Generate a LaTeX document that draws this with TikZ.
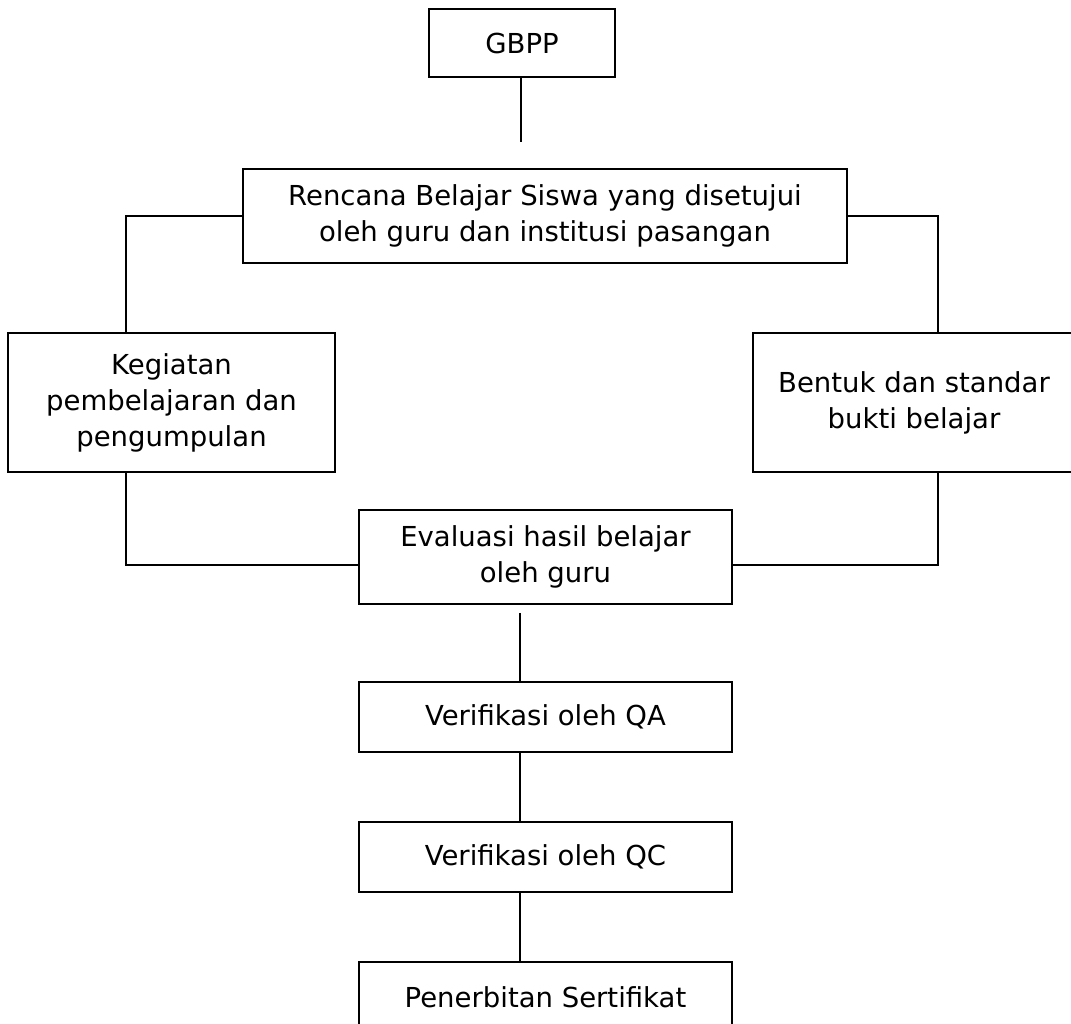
\documentclass[tikz,border=0pt]{standalone}
\usepackage{fontspec}
\setmainfont{DejaVu Sans}
\tikzset{
    kotak/.style={draw, line width=1.8pt, align=center, inner sep=0pt,
        font=\fontsize{27.5}{36}\selectfont},
    garis/.style={line width=1.8pt}
}
\begin{document}
\begin{tikzpicture}[x=1pt, y=-1pt]
    \useasboundingbox (0,0) rectangle (1071,1024);
    % kotak-kotak
    \node[kotak, minimum width=186, minimum height=68] (gbpp) at (522,43) {GBPP};
    \node[kotak, minimum width=604, minimum height=94] (rencana) at (545,216) {Rencana Belajar Siswa yang disetujui\\oleh guru dan institusi pasangan};
    \node[kotak, minimum width=327, minimum height=139] (kegiatan) at (171.5,402.5) {Kegiatan\\pembelajaran dan\\pengumpulan};
    \node[kotak, minimum width=322, minimum height=139] (bentuk) at (914,402.5) {Bentuk dan standar\\bukti belajar};
    \node[kotak, minimum width=373, minimum height=94] (evaluasi) at (545.5,557) {Evaluasi hasil belajar\\oleh guru};
    \node[kotak, minimum width=373, minimum height=70] (qa) at (545.5,717) {Verifikasi oleh QA};
    \node[kotak, minimum width=373, minimum height=70] (qc) at (545.5,857) {Verifikasi oleh QC};
    \node[kotak, minimum width=373, minimum height=70] (terbit) at (545.5,997) {Penerbitan Sertifikat};
    % garis penghubung
    \coordinate (ujung) at (521,142);
    \draw[garis] (gbpp.south -| ujung) -- (ujung);
    \draw[garis] (rencana.west) -| ([xshift=119]kegiatan.north west);
    \draw[garis] (rencana.east) -| ([xshift=186]bentuk.north west);
    \draw[garis] ([xshift=119]kegiatan.south west) |- ([yshift=-8]evaluasi.west);
    \draw[garis] ([xshift=186]bentuk.south west) |- ([yshift=-8]evaluasi.east);
    \draw[garis] ([xshift=162,yshift=-8]evaluasi.south west) -- ([xshift=162]qa.north west);
    \draw[garis] ([xshift=162]qa.south west) -- ([xshift=162]qc.north west);
    \draw[garis] ([xshift=162]qc.south west) -- ([xshift=162]terbit.north west);
\end{tikzpicture}
\end{document}
